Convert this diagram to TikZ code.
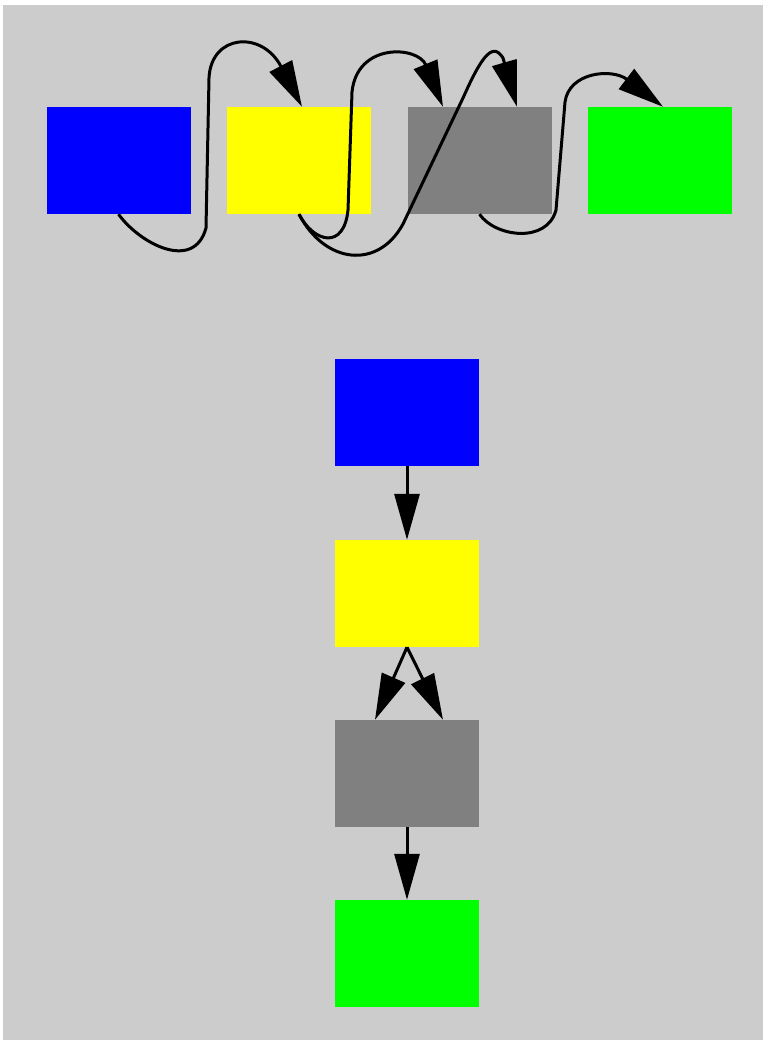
\documentclass[tikz,border=0pt]{standalone}
\usetikzlibrary{arrows.meta,calc}
\definecolor{bg}{HTML}{CCCCCC}
\definecolor{cblue}{HTML}{0000FF}
\definecolor{cyellow}{HTML}{FFFF00}
\definecolor{cgray}{HTML}{808080}
\definecolor{cgreen}{HTML}{00FF00}
\tikzset{
  box/.style={rectangle, draw=none, inner sep=0pt, minimum width=144pt, minimum height=107pt},
  conn/.style={line width=3pt, black, -{Triangle[length=46pt,width=25pt]}, line join=round}
}
\begin{document}
\begin{tikzpicture}[x=1pt,y=-1pt]
\useasboundingbox[fill=white] (0,0) rectangle (763,1040);
\fill[bg] (3,5) rectangle (763,1040);
% top row
\node[box, fill=cblue]   (b1) at (118.5,160.5) {};
\node[box, fill=cyellow] (y1) at (299,160.5) {};
\node[box, fill=cgray]   (g1) at (479.5,160.5) {};
\node[box, fill=cgreen]  (n1) at (660,160.5) {};
% bottom column
\node[box, fill=cblue]   (b2) at (407,412.5) {};
\node[box, fill=cyellow] (y2) at (407,593.5) {};
\node[box, fill=cgray]   (g2) at (407,773.5) {};
\node[box, fill=cgreen]  (n2) at (407,953.5) {};
% top connectors
\draw[conn] (b1.south) .. controls (140,244) and (194,272) .. (206,228)
  -- (209,78) .. controls (211,34) and (262,30) .. ($(y1.north)+(3,0)$);
\draw[conn] (y1.south) .. controls (314,243) and (344,250) .. (348,210)
  -- (352,92) .. controls (357,42) and (418,46) .. ($(g1.north)+(-36.5,0)$);
\draw[conn] (y1.south) .. controls (325,264) and (378,270) .. (403,224)
  -- (463,98) .. controls (480,60) and (492,40) .. (503,58) -- ($(g1.north)+(37.5,0)$);
\draw[conn] (g1.south) .. controls (495,237) and (547,244) .. (556,210)
  -- (565,102) .. controls (569,72) and (612,68) .. ($(n1.north)+(3,0)$);
% bottom connectors
\draw[conn] (b2.south) -- (y2.north);
\draw[conn] (y2.south) -- ($(g2.north)+(-32,0)$);
\draw[conn] (y2.south) -- ($(g2.north)+(36,0)$);
\draw[conn] (g2.south) -- (n2.north);
\end{tikzpicture}
\end{document}
